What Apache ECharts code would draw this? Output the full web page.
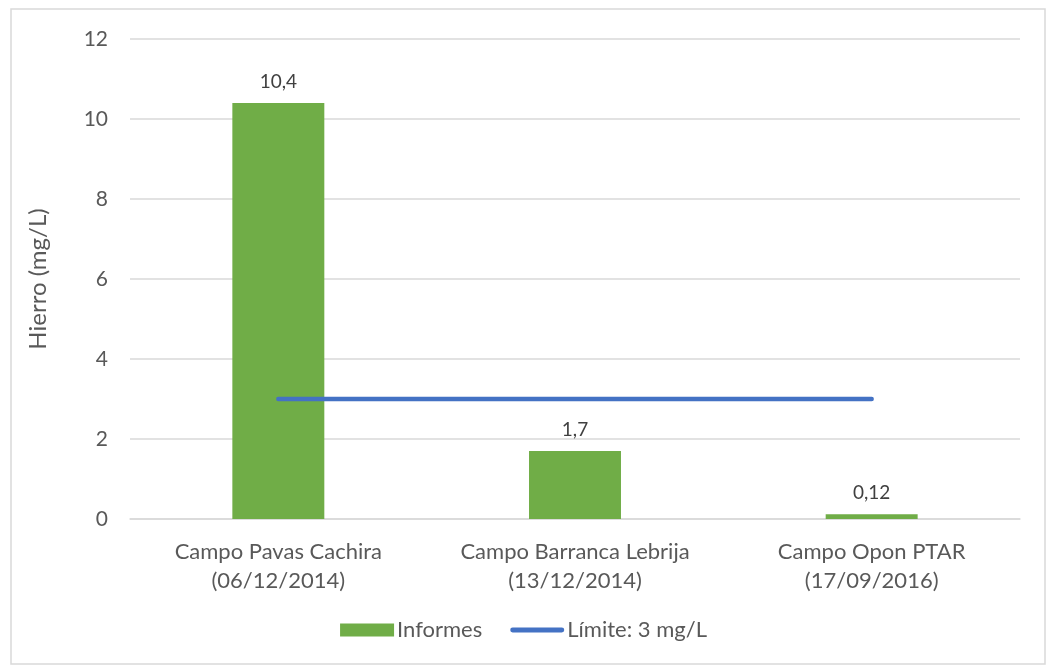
<!DOCTYPE html>
<html>
<head>
<meta charset="utf-8">
<script src="https://cdn.jsdelivr.net/npm/echarts@6/dist/echarts.min.js"></script>
<style>
  html, body { margin: 0; padding: 0; background: #fff; }
  #chart { width: 1047px; height: 667px; }
</style>
</head>
<body>
<div id="chart"></div>
<script>
// datos
const categories = ['Campo Pavas Cachira\n(06/12/2014)', 'Campo Barranca Lebrija\n(13/12/2014)', 'Campo Opon PTAR\n(17/09/2016)']
const informes = [10.4, 1.7, 0.12]
const limite = [3, 3, 3]
const yTicks = [0, 2, 4, 6, 8, 10, 12]

const textColor = '#595959'
const fontFamily = 'Lato, sans-serif'

// icono de linea gruesa con extremos redondeados para la leyenda
const lineIcon = 'path://M0,0 M2.5,4 L53.5,4 A2.5,2.5 0 0 1 53.5,9 L2.5,9 A2.5,2.5 0 0 1 2.5,4 Z M56,13'

const chart = echarts.init(document.getElementById('chart'))
chart.setOption({
  animation: false,
  textStyle: { fontFamily: fontFamily, color: textColor },
  graphic: [{
    type: 'rect',
    shape: { x: 11, y: 9, width: 1034, height: 655 },
    style: { fill: 'none', stroke: '#d9d9d9', lineWidth: 1.5 }
  }],
  grid: { left: 130, right: 27, top: 39, bottom: 148 },
  legend: {
    bottom: 21,
    left: 'center',
    itemWidth: 54,
    itemHeight: 13,
    itemGap: 28,
    textStyle: { fontSize: 22, color: textColor, fontFamily: fontFamily, padding: [0, 0, 0, -2] },
    data: [
      { name: 'Informes', icon: 'rect' },
      { name: 'Límite: 3 mg/L', icon: lineIcon }
    ]
  },
  xAxis: {
    type: 'category',
    data: categories,
    axisLine: { lineStyle: { color: '#d9d9d9', width: 1.5 } },
    axisTick: { show: false },
    axisLabel: { interval: 0, fontSize: 22, color: textColor, lineHeight: 29, margin: 18, fontFamily: fontFamily }
  },
  yAxis: {
    type: 'value',
    min: yTicks[0],
    max: yTicks[yTicks.length - 1],
    interval: 2,
    name: 'Hierro (mg/L)',
    nameLocation: 'middle',
    nameGap: 80,
    nameTextStyle: { fontSize: 24, color: textColor, fontFamily: fontFamily },
    axisLabel: { fontSize: 21, color: textColor, margin: 22, fontFamily: fontFamily },
    splitLine: { lineStyle: { color: '#d9d9d9', width: 1.5 } }
  },
  series: [
    {
      name: 'Informes',
      type: 'bar',
      data: informes,
      barWidth: '31%',
      itemStyle: { color: '#70AD47' },
      label: {
        show: true,
        position: 'top',
        distance: 12,
        fontSize: 19,
        color: '#404040',
        fontFamily: fontFamily,
        formatter: p => String(p.value).replace('.', ',')
      }
    },
    {
      name: 'Límite: 3 mg/L',
      type: 'line',
      data: limite,
      symbol: 'none',
      lineStyle: { color: '#4472C4', width: 4.5, cap: 'round' },
      itemStyle: { color: '#4472C4' }
    }
  ]
})
</script>
</body>
</html>
